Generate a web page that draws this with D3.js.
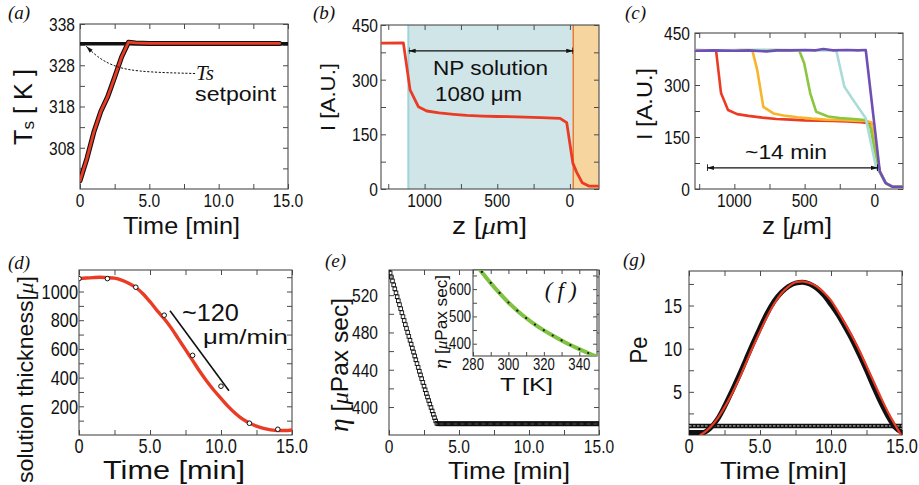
<!DOCTYPE html>
<html><head><meta charset="utf-8"><title>chart</title>
<script src="https://cdn.jsdelivr.net/npm/d3@7/dist/d3.min.js"></script>
<style>html,body{margin:0;padding:0;background:#fff}svg{display:block}</style>
</head><body>
<svg id="fig" width="919" height="485" xmlns="http://www.w3.org/2000/svg"></svg>
<script>
// ================= DATA =================
// (a) substrate temperature vs time
const aTime = [0, 0.5, 1, 1.5, 2, 2.5, 3, 3.5, 4, 5, 6, 7, 8, 9, 10, 11, 12, 13, 14, 14.4];
const aTs   = [300, 305.4, 311.8, 316.8, 320.4, 325.1, 330, 333.6, 333.4, 333.3, 333.3, 333.3, 333.3, 333.3, 333.3, 333.3, 333.3, 333.3, 333.3, 333.3];
const aSetTime = [0, 15];
const aSetpoint = 333.2;
const aArrowT = [8.3, 3.8, 2.2, 1.25, 0.45];
const aArrowY = [326.0, 326.4, 328.1, 330.0, 332.6];
const aXTicks = [0, 5, 10, 15], aXLabels = ["0", "5.0", "10.0", "15.0"];
const aYTicks = [308, 318, 328, 338], aYLabels = ["308", "318", "328", "338"];

// (b) intensity profile at start
const bZ = [1300, 1146, 1100, 1043, 985, 900, 800, 710, 600, 500, 366, 200, 68, 22, -20, -45, -85, -130, -200];
const bI = [400, 401, 272, 226, 214, 209, 205, 202, 200, 199, 198, 196, 194, 182, 71, 47, 17, 8, 8];
const bSolution = [1112, -23];
const bSubstrate = [-23, -200];
const bArrow = [1110, -23], bArrowI = 379;
const bXTicks = [1000, 500, 0], bXLabels = ["1000", "500", "0"];
const bYTicks = [0, 150, 300, 450], bYLabels = ["0", "150", "300", "450"];

// (c) intensity profiles over time
const cRedZ = [1280, 1200, 1130, 1095, 1045, 980, 900, 800, 700, 600, 500, 400, 300, 200, 100, 25, 5, -35, -77, -127, -200];
const cRedI = [401, 400, 399, 277, 228, 216, 211, 206, 202, 200, 198, 197, 196, 195, 193, 189, 130, 50, 17, 6, 6];
const cOrangeZ = [1280, 1100, 960, 872, 837, 794, 722, 650, 550, 450, 350, 250, 150, 60, 25, 5, -35, -77, -127, -200];
const cOrangeI = [400, 399, 401, 400, 343, 237, 218, 212, 207, 203, 200, 199, 197, 196, 192, 130, 50, 17, 6, 6];
const cGreenZ = [1280, 1000, 700, 539, 503, 460, 418, 333, 250, 150, 70, 30, 5, -35, -77, -127, -200];
const cGreenI = [400, 400, 401, 400, 363, 276, 223, 209, 205, 202, 199, 175, 120, 50, 17, 6, 6];
const cCyanZ = [1280, 900, 500, 275, 217, 155, 65, 28, -10, -35, -77, -127, -200];
const cCyanI = [400, 401, 400, 400, 295, 257, 204, 133, 60, 48, 17, 6, 6];
const cPurpleZ = [1280, 1150, 1000, 900, 770, 700, 600, 500, 420, 367, 300, 200, 120, 65, -35, -77, -127, -200];
const cPurpleI = [399, 400, 399, 400, 397, 400, 400, 401, 400, 404, 400, 401, 400, 401, 50, 17, 6, 6];
const cArrow = [1195, -22], cArrowI = 61;
const cXTicks = [1000, 500, 0], cXLabels = ["1000", "500", "0"];
const cYTicks = [0, 150, 300, 450], cYLabels = ["0", "150", "300", "450"];

// (d) solution thickness
const dTimeObs  = [0, 2, 4, 6, 8, 10, 12, 14];
const dThickObs = [1090, 1090, 1030, 835, 555, 340, 82, 40];
const dTimeFit  = [0, 0.5, 1, 1.5, 2, 2.5, 3, 3.5, 4, 4.5, 5, 5.5, 6, 6.5, 7, 7.5, 8, 8.5, 9, 9.5, 10, 10.5, 11, 11.5, 12, 12.5, 13, 13.5, 14, 14.5, 15];
const dThickFit = [1090, 1094, 1097, 1099, 1097, 1093, 1080, 1058, 1028, 985, 929, 867, 810, 745, 670, 595, 520, 444, 375, 312, 255, 200, 152, 112, 84, 62, 46, 36, 31, 31, 35];
const dSlopeT = [6.41, 10.56], dSlopeV = [866, 309];
const dXTicks = [0, 5, 10, 15], dXLabels = ["0", "5.0", "10.0", "15.0"];
const dYTicks = [200, 400, 600, 800, 1000], dYLabels = ["200", "400", "600", "800", "1000"];

// (e) viscosity vs time, one sample every 5 s
const eDt = 5 / 60;
const eDrop = [548, 543.8, 539.5, 535.3, 531, 526.8, 522.5, 518.3, 514, 509.8, 505.5, 501.3, 497, 492.8, 488.5, 484.3, 480, 475.8, 471.6, 467.4, 463.2, 459, 454.8, 450.7, 446.6, 442.5, 438.4, 434.4, 430.4, 426.4, 422.4, 418.5, 414.6, 410.8, 407, 403.2, 399.5, 395.8, 392.2, 388.6, 385.1, 382.5];
const eFlat = [
 382,382,382,382,382,382,382,382,382,382,382,382,382,382,382,382,382,382,382,382,
 382,382,382,382,382,382,382,382,382,382,382,382,382,382,382,382,382,382,382,382,
 382,382,382,382,382,382,382,382,382,382,382,382,382,382,382,382,382,382,382,382,
 382,382,382,382,382,382,382,382,382,382,382,382,382,382,382,382,382,382,382,382,
 382,382,382,382,382,382,382,382,382,382,382,382,382,382,382,382,382,382,382,382,
 382,382,382,382,382,382,382,382,382,382,382,382,382,382,382,382,382,382,382,382,
 382,382,382,382,382,382,382,382,382,382,382,382,382,382,382,382,382,382,382,382];
const eXTicks = [0, 5, 10, 15], eXLabels = ["0", "5.0", "10.0", "15.0"];
const eYTicks = [400, 440, 480, 520], eYLabels = ["400", "440", "480", "520"];

// (f) inset: viscosity vs temperature
const fT   = [284, 290, 295, 300, 305, 310, 315, 320, 325, 330, 335, 340, 345, 350];
const fEta = [670, 622, 585, 551, 521, 494, 470, 449, 430, 412, 395, 380, 366, 353];
const fDotT   = [285, 290, 295, 300, 305, 310, 315, 320, 325, 330, 335, 340, 345];
const fDotEta = [663, 623, 586, 551, 521, 494, 470, 449, 430, 412, 395, 380, 366];
const fXTicks = [280, 300, 320, 340], fXLabels = ["280", "300", "320", "340"];
const fYTicks = [400, 500, 600], fYLabels = ["400", "500", "600"];

// (g) Peclet number
const gTime = [0, 0.5, 1, 1.5, 2, 2.5, 3, 3.5, 4, 4.5, 5, 5.5, 6, 6.5, 7, 7.5, 8, 8.5, 9, 9.5, 10, 10.5, 11, 11.5, 12, 12.5, 13, 13.5, 14, 14.5, 15];
const gPeSim = [0.3, 0.3, 0.3, 0.8, 1.8, 3.3, 5.0, 6.8, 8.7, 10.6, 12.4, 14.1, 15.5, 16.5, 17.2, 17.6, 17.7, 17.5, 17.0, 16.2, 15.1, 13.9, 12.5, 11.0, 9.3, 7.5, 5.6, 3.8, 2.2, 0.9, 0.3];
const gFitTime = [0.8, 1, 1.5, 2, 2.5, 3, 3.5, 4, 4.5, 5, 5.5, 6, 6.5, 7, 7.5, 8, 8.5, 9, 9.5, 10, 10.5, 11, 11.5, 12, 12.5, 13, 13.5, 14, 14.5, 14.9];
const gPeFit = [0, 0.2, 0.9, 1.9, 3.2, 4.7, 6.4, 8.3, 10.2, 12.0, 13.7, 15.2, 16.4, 17.2, 17.7, 17.8, 17.6, 17.2, 16.5, 15.6, 14.3, 12.9, 11.4, 9.8, 8.0, 6.2, 4.4, 2.7, 1.2, 0.1];
const gUnitTime = [0, 15], gUnitPe = 1.05;
const gXTicks = [0, 5, 10, 15], gXLabels = ["0", "5.0", "10.0", "15.0"];
const gYTicks = [5, 10, 15], gYLabels = ["5", "10", "15"];

// ================= DRAWING =================
const svg = d3.select('#fig');
const SANS = '"Liberation Sans", Arial, Helvetica, sans-serif';
const SERIF = '"Liberation Serif", "Times New Roman", serif';
const INK = '#111';
const FRAME = '#4a4a4a';
const RED = '#ea3b25';

const defs = svg.append('defs');
const mkArrow = (id, bar) => {
  const m = defs.append('marker').attr('id', id).attr('viewBox', '0 0 10 10').attr('refX', 10).attr('refY', 5)
    .attr('markerWidth', 7).attr('markerHeight', 7).attr('markerUnits', 'userSpaceOnUse').attr('orient', 'auto-start-reverse');
  m.append('path').attr('d', 'M0,2 L10,5 L0,8 Z').attr('fill', INK);
  if (bar) m.append('path').attr('d', 'M9.5,0 V10').attr('stroke', INK).attr('stroke-width', 1.6);
};
mkArrow('arrBar', true);
mkArrow('arrSmall', false);

const boxes = {
  A: {x0: 80, x1: 288, y0: 24, y1: 189},
  B: {x0: 381, x1: 599, y0: 25, y1: 189},
  C: {x0: 695, x1: 903, y0: 33, y1: 189},
  D: {x0: 79, x1: 292, y0: 270, y1: 435},
  E: {x0: 389, x1: 599, y0: 270, y1: 435},
  F: {x0: 473, x1: 597, y0: 270, y1: 356},
  G: {x0: 689, x1: 902, y0: 271, y1: 435}
};
Object.entries(boxes).forEach(([k, b]) => {
  defs.append('clipPath').attr('id', 'clip' + k).append('rect')
    .attr('x', b.x0).attr('y', b.y0).attr('width', b.x1 - b.x0).attr('height', b.y1 - b.y0);
});

function ntext(g, x, y, str, fs, anchor, sx) {
  return g.append('text').attr('transform', `translate(${x},${y}) scale(${sx || 0.82},1)`)
    .attr('text-anchor', anchor || 'middle').attr('font-family', SANS).attr('font-size', fs)
    .attr('fill', INK).text(str);
}

function axes(box, xs, ys, o) {
  const g = svg.append('g');
  const xt = o.xMajor.concat(o.xMinor), yt = o.yMajor.concat(o.yMinor);
  const mk = (axis, tr) => {
    const a = g.append('g').attr('transform', tr).call(axis.tickSizeInner(-(o.tl || 5)).tickSizeOuter(0).tickFormat(''));
    a.select('.domain').remove();
    a.selectAll('.tick line').attr('stroke', FRAME).attr('stroke-width', 1);
  };
  mk(d3.axisBottom(xs).tickValues(xt), `translate(0,${box.y1})`);
  mk(d3.axisTop(xs).tickValues(xt), `translate(0,${box.y0})`);
  mk(d3.axisLeft(ys).tickValues(yt), `translate(${box.x0},0)`);
  mk(d3.axisRight(ys).tickValues(yt), `translate(${box.x1},0)`);
  g.append('rect').attr('x', box.x0).attr('y', box.y0).attr('width', box.x1 - box.x0).attr('height', box.y1 - box.y0)
    .attr('fill', 'none').attr('stroke', FRAME).attr('stroke-width', 1.1);
  const fs = o.fs || 19;
  o.xMajor.forEach((v, i) => ntext(g, xs(v), box.y1 + o.xDy, o.xLabels[i], fs, 'middle'));
  o.yMajor.forEach((v, i) => ntext(g, box.x0 - o.yGap, ys(v) + fs * 0.36, o.yLabels[i], fs, 'end'));
  return g;
}

function xTitle(x, y, parts, fs, len) {
  const t = svg.append('text').attr('x', x).attr('y', y).attr('text-anchor', 'middle')
    .attr('font-family', SANS).attr('font-size', fs).attr('fill', INK);
  parts.forEach(p => { const s = t.append('tspan').text(p.t); if (p.i) s.attr('font-family', SERIF).attr('font-style', 'italic'); });
  if (len) t.attr('textLength', len).attr('lengthAdjust', 'spacingAndGlyphs');
  return t;
}
function yTitle(x, y, parts, fs, len, anchor) {
  const t = svg.append('text').attr('transform', `translate(${x},${y}) rotate(-90)`).attr('text-anchor', anchor || 'middle')
    .attr('font-family', SANS).attr('font-size', fs).attr('fill', INK);
  parts.forEach(p => {
    const s = t.append('tspan').text(p.t);
    if (p.i) s.attr('font-family', SERIF).attr('font-style', 'italic');
    if (p.fs) s.attr('font-size', p.fs);
    if (p.dy) s.attr('dy', p.dy);
  });
  if (len) t.attr('textLength', len).attr('lengthAdjust', 'spacingAndGlyphs');
  return t;
}
function panelLabel(x, y, str) {
  svg.append('text').attr('x', x).attr('y', y).attr('font-family', SERIF).attr('font-style', 'italic')
    .attr('font-size', 19).attr('fill', INK).text(str);
}
const path = (g, data, xs, ys, color, w, curve) => g.append('path').datum(data)
  .attr('d', d3.line().x(d => xs(d[0])).y(d => ys(d[1])).curve(curve || d3.curveLinear))
  .attr('fill', 'none').attr('stroke', color).attr('stroke-width', w).attr('stroke-linejoin', 'round').attr('stroke-linecap', 'round');

// ---------- (a) ----------
{
  const B = boxes.A;
  const xs = d3.scaleLinear().domain([0, 15]).range([B.x0, B.x1]);
  const ys = d3.scaleLinear().domain([298, 338]).range([B.y1, B.y0]);
  axes(B, xs, ys, {xMajor: aXTicks, xMinor: [2.5, 7.5, 12.5], xLabels: aXLabels,
    yMajor: aYTicks, yMinor: [303, 313, 323, 333], yLabels: aYLabels, xDy: 17.5, yGap: 5});
  const g = svg.append('g').attr('clip-path', 'url(#clipA)');
  path(g, aSetTime.map(t => [t, aSetpoint]), xs, ys, INK, 3.6);
  path(g, d3.zip(aTime, aTs), xs, ys, INK, 5);
  path(g, d3.zip(aTime, aTs), xs, ys, RED, 2.8);
  path(svg, d3.zip(aArrowT, aArrowY), xs, ys, INK, 1, d3.curveBasis)
    .attr('stroke-dasharray', '2.2,1.6').attr('stroke-linecap', 'butt').attr('marker-end', 'url(#arrSmall)');
  svg.append('text').attr('x', xs(8.37)).attr('y', ys(324.4)).attr('font-family', SERIF).attr('font-style', 'italic')
    .attr('font-size', 21).attr('fill', INK).text('Ts');
  svg.append('text').attr('x', xs(8.3)).attr('y', ys(319.3)).attr('font-family', SANS).attr('font-size', 20)
    .attr('fill', INK).attr('textLength', 81).attr('lengthAdjust', 'spacingAndGlyphs').text('setpoint');
  yTitle(32, 107, [{t: 'T'}, {t: 's', fs: 17, dy: 1.5}, {t: ' [ K ]', dy: -1.5}], 25, 76);
  xTitle(181.5, 233.5, [{t: 'Time [min]'}], 24, 117);
  panelLabel(8, 19, '(a)');
}

// ---------- (b) ----------
{
  const B = boxes.B;
  const xs = d3.scaleLinear().domain([1300, -200]).range([B.x0, B.x1]);
  const ys = d3.scaleLinear().domain([0, 450]).range([B.y1, B.y0]);
  const g = svg.append('g').attr('clip-path', 'url(#clipB)');
  g.append('rect').attr('x', xs(bSolution[0])).attr('y', ys(450)).attr('width', xs(bSolution[1]) - xs(bSolution[0]))
    .attr('height', ys(0) - ys(450)).attr('fill', '#cfe5e8');
  g.append('rect').attr('x', xs(bSubstrate[0])).attr('y', ys(450)).attr('width', xs(bSubstrate[1]) - xs(bSubstrate[0]))
    .attr('height', ys(0) - ys(450)).attr('fill', '#f7d59e');
  g.append('line').attr('x1', xs(bSolution[0])).attr('x2', xs(bSolution[0])).attr('y1', ys(450)).attr('y2', ys(0))
    .attr('stroke', '#9fd4d9').attr('stroke-width', 2);
  g.append('line').attr('x1', xs(bSubstrate[0])).attr('x2', xs(bSubstrate[0])).attr('y1', ys(450)).attr('y2', ys(0))
    .attr('stroke', '#ee7a2e').attr('stroke-width', 1.5);
  axes(B, xs, ys, {xMajor: bXTicks, xMinor: [1250, 750, 250], xLabels: bXLabels,
    yMajor: bYTicks, yMinor: [75, 225, 375], yLabels: bYLabels, xDy: 17.5, yGap: 3});
  const g2 = svg.append('g').attr('clip-path', 'url(#clipB)');
  path(g2, d3.zip(bZ, bI), xs, ys, RED, 2.8);
  svg.append('line').attr('x1', xs(bArrow[0])).attr('x2', xs(bArrow[1])).attr('y1', ys(bArrowI)).attr('y2', ys(bArrowI))
    .attr('stroke', INK).attr('stroke-width', 1.2).attr('marker-start', 'url(#arrBar)').attr('marker-end', 'url(#arrBar)');
  svg.append('text').attr('x', xs(942)).attr('y', ys(313)).attr('font-family', SANS).attr('font-size', 21).attr('fill', INK)
    .attr('textLength', 115).attr('lengthAdjust', 'spacingAndGlyphs').text('NP solution');
  svg.append('text').attr('x', xs(928)).attr('y', ys(241.5)).attr('font-family', SANS).attr('font-size', 21).attr('fill', INK)
    .attr('textLength', 87).attr('lengthAdjust', 'spacingAndGlyphs').text('1080 μm');
  yTitle(335, 97, [{t: 'I [A.U.]'}], 21, 68);
  xTitle(489.5, 233.5, [{t: 'z ['}, {t: 'μ', i: true}, {t: 'm]'}], 24, 75);
  panelLabel(313, 19, '(b)');
}

// ---------- (c) ----------
{
  const B = boxes.C;
  const xs = d3.scaleLinear().domain([1280, -200]).range([B.x0, B.x1]);
  const ys = d3.scaleLinear().domain([0, 450]).range([B.y1, B.y0]);
  axes(B, xs, ys, {xMajor: cXTicks, xMinor: [1250, 750, 250], xLabels: cXLabels,
    yMajor: cYTicks, yMinor: [75, 225, 375], yLabels: cYLabels, xDy: 17.5, yGap: 5});
  const g = svg.append('g').attr('clip-path', 'url(#clipC)');
  path(g, d3.zip(cRedZ, cRedI), xs, ys, '#ec3b24', 2.6);
  path(g, d3.zip(cOrangeZ, cOrangeI), xs, ys, '#f6b52a', 2.6);
  path(g, d3.zip(cGreenZ, cGreenI), xs, ys, '#8cc63f', 2.6);
  path(g, d3.zip(cCyanZ, cCyanI), xs, ys, '#a9dcd9', 2.6);
  path(g, d3.zip(cPurpleZ, cPurpleI), xs, ys, '#6e50b4', 2.6);
  svg.append('line').attr('x1', xs(cArrow[0])).attr('x2', xs(cArrow[1])).attr('y1', ys(cArrowI)).attr('y2', ys(cArrowI))
    .attr('stroke', INK).attr('stroke-width', 1.2).attr('marker-start', 'url(#arrBar)').attr('marker-end', 'url(#arrBar)');
  svg.append('text').attr('x', xs(924)).attr('y', ys(86.5)).attr('font-family', SANS).attr('font-size', 21).attr('fill', INK)
    .attr('textLength', 82).attr('lengthAdjust', 'spacingAndGlyphs').text('~14 min');
  yTitle(652, 104, [{t: 'I [A.U.]'}], 22, 72);
  xTitle(797, 233.5, [{t: 'z ['}, {t: 'μ', i: true}, {t: 'm]'}], 24, 70);
  panelLabel(625, 19, '(c)');
}

// ---------- (d) ----------
{
  const B = boxes.D;
  const xs = d3.scaleLinear().domain([0, 15]).range([B.x0, B.x1]);
  const ys = d3.scaleLinear().domain([0, 1150]).range([B.y1, B.y0]);
  axes(B, xs, ys, {xMajor: dXTicks, xMinor: [2.5, 7.5, 12.5], xLabels: dXLabels,
    yMajor: dYTicks, yMinor: [100, 300, 500, 700, 900, 1100], yLabels: dYLabels, xDy: 18, yGap: 1, fs: 20});
  const g = svg.append('g').attr('clip-path', 'url(#clipD)');
  path(g, d3.zip(dTimeFit, dThickFit), xs, ys, RED, 3.4, d3.curveMonotoneX);
  g.selectAll('circle').data(d3.zip(dTimeObs, dThickObs)).join('circle')
    .attr('cx', d => xs(d[0])).attr('cy', d => ys(d[1])).attr('r', 2.3)
    .attr('fill', '#fff').attr('stroke', INK).attr('stroke-width', 1);
  path(svg, d3.zip(dSlopeT, dSlopeV), xs, ys, INK, 1.6).attr('stroke-linecap', 'butt');
  svg.append('text').attr('x', xs(7.25)).attr('y', ys(795)).attr('font-family', SANS).attr('font-size', 24).attr('fill', INK)
    .attr('textLength', 57).attr('lengthAdjust', 'spacingAndGlyphs').text('~120');
  svg.append('text').attr('x', xs(8.73)).attr('y', ys(637)).attr('font-family', SANS).attr('font-size', 20).attr('fill', INK)
    .attr('textLength', 85).attr('lengthAdjust', 'spacingAndGlyphs').text('μm/min');
  yTitle(33, 276, [{t: 'solution thickness['}, {t: 'μ', i: true}, {t: ']'}], 22, 207, 'end');
  xTitle(174, 479, [{t: 'Time [min]'}], 25, 142);
  panelLabel(8, 269, '(d)');
}

// ---------- (e) + (f) ----------
{
  const B = boxes.E;
  const xs = d3.scaleLinear().domain([0, 15]).range([B.x0, B.x1]);
  const ys = d3.scaleLinear().domain([370, 547]).range([B.y1, B.y0]);
  axes(B, xs, ys, {xMajor: eXTicks, xMinor: [2.5, 7.5, 12.5], xLabels: eXLabels,
    yMajor: eYTicks, yMinor: [420, 460, 500, 540], yLabels: eYLabels, xDy: 18, yGap: 11});
  const eVals = eDrop.concat(eFlat);
  const g = svg.append('g').attr('clip-path', 'url(#clipE)');
  g.selectAll('rect.sq').data(eVals.map((v, i) => [i * eDt, v])).join('rect').attr('class', 'sq')
    .attr('x', d => xs(d[0]) - 1.8).attr('y', d => ys(d[1]) - 1.8).attr('width', 3.6).attr('height', 3.6)
    .attr('fill', 'none').attr('stroke', INK).attr('stroke-width', 0.9);
  yTitle(348, 365, [{t: 'η', i: true, fs: 27}, {t: ' ['}, {t: 'μ', i: true}, {t: 'Pax sec]'}], 24, 134);
  xTitle(509, 479, [{t: 'Time [min]'}], 24, 122);
  panelLabel(325, 267, '(e)');

  // inset (f)
  const F = boxes.F;
  svg.append('rect').attr('x', F.x0).attr('y', F.y0).attr('width', F.x1 - F.x0).attr('height', F.y1 - F.y0).attr('fill', '#fff');
  const fx = d3.scaleLinear().domain([280, 350]).range([F.x0, F.x1]);
  const fy = d3.scaleLinear().domain([355, 670]).range([F.y1, F.y0]);
  axes(F, fx, fy, {xMajor: fXTicks, xMinor: [290, 310, 330], xLabels: fXLabels,
    yMajor: fYTicks, yMinor: [450, 550, 650], yLabels: fYLabels, xDy: 14, yGap: 2, fs: 16, tl: 4});
  const gf = svg.append('g').attr('clip-path', 'url(#clipF)');
  path(gf, d3.zip(fT, fEta), fx, fy, '#80c242', 4, d3.curveMonotoneX);
  gf.selectAll('circle').data(d3.zip(fDotT, fDotEta)).join('circle')
    .attr('cx', d => fx(d[0])).attr('cy', d => fy(d[1])).attr('r', 1.1).attr('fill', INK);
  svg.append('text').attr('x', fx(320.5)).attr('y', fy(568)).attr('font-family', SERIF).attr('font-style', 'italic')
    .attr('font-size', 23).attr('fill', INK).attr('textLength', 32).attr('lengthAdjust', 'spacing').text('(f)');
  yTitle(447, 322, [{t: 'η', i: true, fs: 19}, {t: ' ['}, {t: 'μ', i: true}, {t: 'Pax sec]'}], 16, 94);
  xTitle(526.5, 391, [{t: 'T [K]'}], 18, 53);
}

// ---------- (g) ----------
{
  const B = boxes.G;
  const xs = d3.scaleLinear().domain([0, 15]).range([B.x0, B.x1]);
  const ys = d3.scaleLinear().domain([0, 19]).range([B.y1, B.y0]);
  axes(B, xs, ys, {xMajor: gXTicks, xMinor: [2.5, 7.5, 12.5], xLabels: gXLabels,
    yMajor: gYTicks, yMinor: [2.5, 7.5, 12.5, 17.5], yLabels: gYLabels, xDy: 18, yGap: 7, fs: 20});
  const g = svg.append('g').attr('clip-path', 'url(#clipG)');
  path(g, gUnitTime.map(t => [t, gUnitPe]), xs, ys, INK, 4.5).attr('stroke-linecap', 'butt');
  path(g, gUnitTime.map(t => [t, gUnitPe]), xs, ys, '#fff', 0.8).attr('stroke-dasharray', '2.5,1.5').attr('stroke-linecap', 'butt');
  path(g, d3.zip(gTime, gPeSim), xs, ys, INK, 5, d3.curveMonotoneX);
  path(g, d3.zip(gFitTime, gPeFit), xs, ys, RED, 2.2, d3.curveMonotoneX);
  yTitle(647, 350, [{t: 'Pe'}], 23, 27);
  xTitle(783.5, 479, [{t: 'Time [min]'}], 24, 127);
  panelLabel(623, 266, '(g)');
}
</script>
</body></html>
